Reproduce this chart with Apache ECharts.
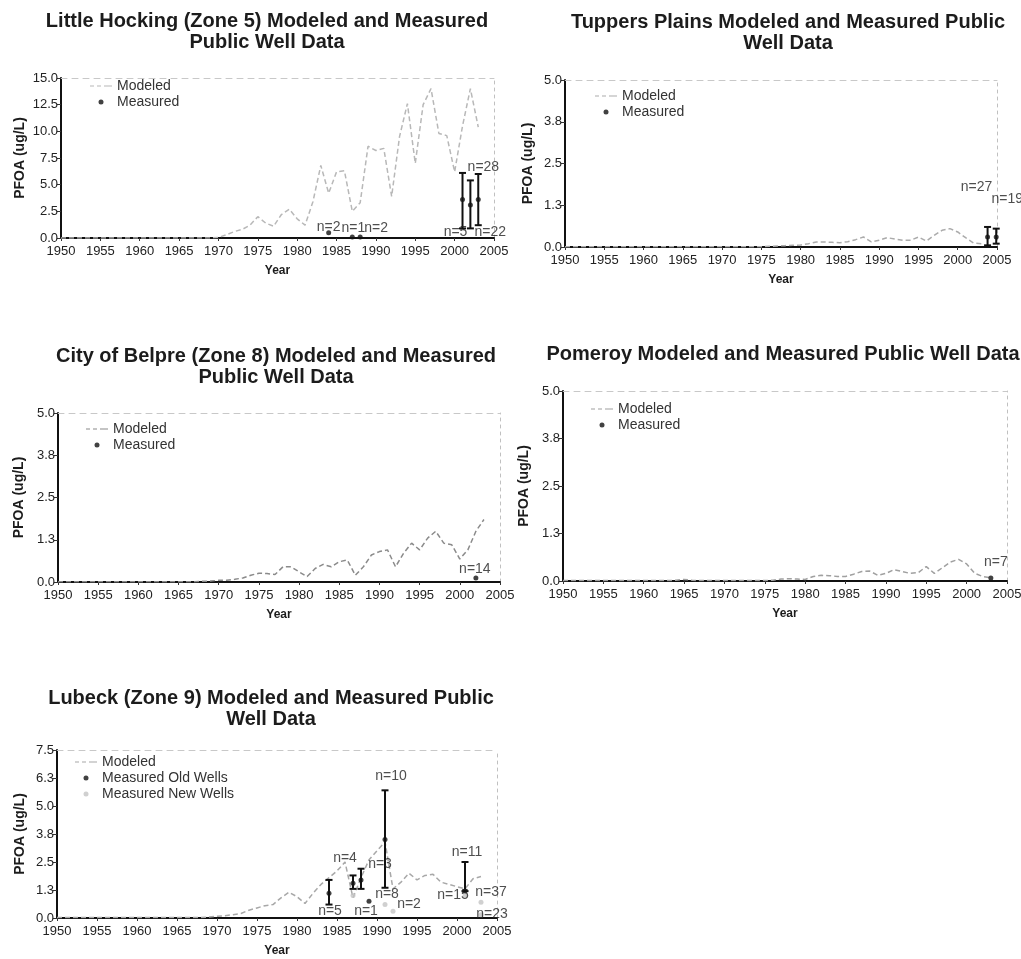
<!DOCTYPE html>
<html>
<head>
<meta charset="utf-8">
<script src="https://cdn.jsdelivr.net/npm/echarts@6/dist/echarts.min.js"></script>
<style>
html,body{margin:0;padding:0;background:#fff;}
#c{width:1021px;height:959px;}
</style>
</head>
<body>
<div id="c"></div>
<script>
// ---------------- DATA ----------------
const YEARS = [1950,1951,1952,1953,1954,1955,1956,1957,1958,1959,
  1960,1961,1962,1963,1964,1965,1966,1967,1968,1969,
  1970,1971,1972,1973,1974,1975,1976,1977,1978,1979,
  1980,1981,1982,1983,1984,1985,1986,1987,1988,1989,
  1990,1991,1992,1993,1994,1995,1996,1997,1998,1999,
  2000,2001,2002,2003];

const X_TICKS = [1950,1955,1960,1965,1970,1975,1980,1985,1990,1995,2000,2005];

// Little Hocking (Zone 5)
const LH_MODELED = [0,0,0,0,0,0,0,0,0,0, 0,0,0,0,0,0,0,0,0,0,
  0.05,0.3,0.6,0.8,1.2,2.0,1.4,1.1,2.2,2.7,
  1.8,1.2,3.4,6.8,4.2,6.2,6.3,2.5,3.3,8.6,
  8.2,8.4,3.9,9.5,12.6,7.0,12.5,14.0,9.8,9.6,
  6.2,10.5,14.0,10.4];
const LH_MEAS_YEAR = [1984,1987,1988,2001,2002,2003];
const LH_MEAS_MEAN = [0.5,0.1,0.1,3.6,3.1,3.6];
const LH_MEAS_LOW  = [null,null,null,0.9,0.9,1.2];
const LH_MEAS_HIGH = [null,null,null,6.1,5.4,6.0];
const LH_MEAS_N    = ['n=2','n=1','n=2','n=5','n=28','n=22'];

// Tuppers Plains
const TP_MODELED = [0.01,0.01,0.01,0.01,0.01,0.01,0.01,0.01,0.01,0.01,
  0.01,0.01,0.01,0.01,0.01,0.01,0.01,0.01,0.01,0.01,
  0.01,0.01,0.01,0.01,0.01,0.01,0.02,0.03,0.04,0.05,
  0.06,0.1,0.15,0.15,0.14,0.13,0.16,0.22,0.3,0.15,
  0.2,0.28,0.24,0.2,0.2,0.3,0.18,0.35,0.5,0.55,
  0.45,0.28,0.12,0.1];
const TP_MEAS_YEAR = [2003.8,2004.9];
const TP_MEAS_MEAN = [0.3,0.3];
const TP_MEAS_LOW  = [0.05,0.1];
const TP_MEAS_HIGH = [0.6,0.55];
const TP_MEAS_N    = ['n=27','n=19'];

// City of Belpre (Zone 8)
const BP_MODELED = [0.01,0.01,0.01,0.01,0.01,0.01,0.01,0.01,0.01,0.01,
  0.01,0.01,0.01,0.01,0.01,0.01,0.01,0.01,0.02,0.03,
  0.05,0.05,0.08,0.12,0.2,0.26,0.25,0.22,0.45,0.45,
  0.3,0.16,0.4,0.52,0.45,0.6,0.65,0.2,0.45,0.8,
  0.9,0.95,0.45,0.85,1.15,0.95,1.3,1.5,1.15,1.1,
  0.68,0.95,1.5,1.85];
const BP_MEAS_YEAR = [2002];
const BP_MEAS_MEAN = [0.12];
const BP_MEAS_LOW  = [null];
const BP_MEAS_HIGH = [null];
const BP_MEAS_N    = ['n=14'];

// Pomeroy
const PM_MODELED = [0.01,0.01,0.01,0.01,0.01,0.01,0.01,0.01,0.01,0.01,
  0.01,0.01,0.01,0.01,0.02,0.04,0.02,0.01,0.01,0.01,
  0.01,0.01,0.01,0.01,0.01,0.01,0.02,0.05,0.06,0.05,
  0.04,0.12,0.15,0.14,0.12,0.12,0.18,0.25,0.26,0.15,
  0.2,0.3,0.25,0.2,0.22,0.38,0.2,0.35,0.5,0.57,
  0.45,0.2,0.12,0.08];
const PM_MEAS_YEAR = [2003];
const PM_MEAS_MEAN = [0.08];
const PM_MEAS_LOW  = [null];
const PM_MEAS_HIGH = [null];
const PM_MEAS_N    = ['n=7'];

// Lubeck (Zone 9)
const LB_MODELED = [0.02,0.02,0.02,0.02,0.02,0.02,0.02,0.02,0.02,0.02,
  0.02,0.02,0.02,0.02,0.02,0.02,0.02,0.02,0.02,0.05,
  0.08,0.1,0.15,0.2,0.35,0.45,0.55,0.6,0.9,1.15,
  0.95,0.65,1.1,1.5,1.8,2.1,2.5,0.9,1.8,2.6,
  3.0,3.4,1.3,1.6,2.0,1.7,1.9,1.95,1.6,1.5,
  1.4,1.3,1.75,1.85];
const LB_OLD_YEAR = [1984,1987,1988,1989,1991,2001];
const LB_OLD_MEAN = [1.1,1.55,1.7,0.75,3.5,1.2];
const LB_OLD_LOW  = [0.6,1.3,1.3,null,1.35,1.2];
const LB_OLD_HIGH = [1.7,1.9,2.2,null,5.7,2.5];
const LB_OLD_N    = ['n=5','n=4','n=3','n=1','n=10','n=11'];
const LB_NEW_YEAR = [1987,1991,1992,2001,2003,2003];
const LB_NEW_MEAN = [1.0,0.6,0.3,1.0,0.7,0.15];
const LB_NEW_N    = ['','n=8','n=2','n=15','n=37','n=23'];

// ---------------- STYLE / LAYOUT ----------------
const FONT = '"Liberation Sans", Arial, Helvetica, sans-serif';
const INK = '#1c1c1c';

const panels = [
  { title:'Little Hocking (Zone 5) Modeled and Measured\nPublic Well Data', tx:267, ty:11,
    grid:{left:61, top:78, width:433, height:160}, ymax:15, yint:2.5, nameGap:34,
    lineColor:'#b8b8b8', legend:{left:90, top:79},
    meas:[{name:'Measured', color:'#111', year:LH_MEAS_YEAR, mean:LH_MEAS_MEAN, low:LH_MEAS_LOW, high:LH_MEAS_HIGH, n:LH_MEAS_N,
      off:[[0,-6],[1,-9],[16,-9],[-7,33],[13,-38],[12,33]]}],
    modeled:LH_MODELED },
  { title:'Tuppers Plains Modeled and Measured Public\nWell Data', tx:788, ty:12,
    grid:{left:565, top:80, width:432, height:167}, ymax:5, yint:1.25, nameGap:30,
    lineColor:'#ababab', legend:{left:595, top:89},
    meas:[{name:'Measured', color:'#111', year:TP_MEAS_YEAR, mean:TP_MEAS_MEAN, low:TP_MEAS_LOW, high:TP_MEAS_HIGH, n:TP_MEAS_N,
      off:[[-11,-50],[11,-38]]}],
    modeled:TP_MODELED },
  { title:'City of Belpre (Zone 8) Modeled and Measured\nPublic Well Data', tx:276, ty:346,
    grid:{left:58, top:413, width:442, height:169}, ymax:5, yint:1.25, nameGap:32,
    lineColor:'#8a8a8a', legend:{left:86, top:422},
    meas:[{name:'Measured', color:'#111', year:BP_MEAS_YEAR, mean:BP_MEAS_MEAN, low:BP_MEAS_LOW, high:BP_MEAS_HIGH, n:BP_MEAS_N,
      off:[[-1,-9]]}],
    modeled:BP_MODELED },
  { title:'Pomeroy Modeled and Measured Public Well Data', tx:783, ty:344,
    grid:{left:563, top:391, width:444, height:190}, ymax:5, yint:1.25, nameGap:32,
    lineColor:'#a0a0a0', legend:{left:591, top:402},
    meas:[{name:'Measured', color:'#111', year:PM_MEAS_YEAR, mean:PM_MEAS_MEAN, low:PM_MEAS_LOW, high:PM_MEAS_HIGH, n:PM_MEAS_N,
      off:[[5,-16]]}],
    modeled:PM_MODELED },
  { title:'Lubeck (Zone 9) Modeled and Measured Public\nWell Data', tx:271, ty:688,
    grid:{left:57, top:750, width:440, height:168}, ymax:7.5, yint:1.25, nameGap:30,
    lineColor:'#a8a8a8', legend:{left:75, top:755},
    meas:[
      {name:'Measured Old Wells', color:'#111', year:LB_OLD_YEAR, mean:LB_OLD_MEAN, low:LB_OLD_LOW, high:LB_OLD_HIGH, n:LB_OLD_N,
        off:[[1,18],[-8,-25],[19,-16],[-3,10],[6,-63],[2,-39]]},
      {name:'Measured New Wells', color:'#c4c4c4', year:LB_NEW_YEAR, mean:LB_NEW_MEAN, low:null, high:null, n:LB_NEW_N,
        off:[[0,0],[2,-10],[16,-7],[-12,0],[10,-10],[11,0]]}
    ],
    modeled:LB_MODELED }
];

function errRender(params, api) {
  const x = api.value(0), lo = api.value(1), hi = api.value(2);
  const a = api.coord([x, hi]), b = api.coord([x, lo]);
  const w = 3.5;
  const st = {stroke:'#111', lineWidth:2};
  return {type:'group', children:[
    {type:'line', shape:{x1:a[0], y1:a[1], x2:b[0], y2:b[1]}, style:st},
    {type:'line', shape:{x1:a[0]-w, y1:a[1], x2:a[0]+w, y2:a[1]}, style:st},
    {type:'line', shape:{x1:b[0]-w, y1:b[1], x2:b[0]+w, y2:b[1]}, style:st}
  ]};
}

const option = {
  animation:false,
  backgroundColor:'#ffffff',
  textStyle:{fontFamily:FONT},
  title:[], legend:[], grid:[], xAxis:[], yAxis:[], series:[]
};

panels.forEach((p, i) => {
  option.title.push({
    text:p.title, left:p.tx, top:p.ty, textAlign:'center', padding:0,
    textStyle:{fontFamily:FONT, fontSize:20, fontWeight:'bold', color:INK, lineHeight:21}
  });
  option.grid.push(Object.assign({containLabel:false, outerBoundsMode:'none', show:false}, p.grid));

  const legendData = [{name:'Modeled', icon:'path://M0,0 L4,0 L4,1 L0,1 Z M7,0 L11,0 L11,1 L7,1 Z M14,0 L22,0 L22,1 L14,1 Z',
      itemStyle:{color:p.lineColor}}];
  p.meas.forEach(m => legendData.push({name:m.name, icon:'circle', itemStyle:{color:m.color}}));
  option.legend.push({
    orient:'vertical', left:p.legend.left, top:p.legend.top, padding:0,
    itemWidth:22, itemHeight:5, itemGap:2, selectedMode:false,
    textStyle:{fontFamily:FONT, fontSize:14, color:'#333', padding:[0,0,0,0]},
    data:legendData
  });

  const axisFont = {fontFamily:FONT, fontSize:13, color:'#222'};
  option.xAxis.push({
    type:'value', gridIndex:i, min:1950, max:2005, interval:5, position:'bottom',
    name:'Year', nameLocation:'middle', nameGap:27,
    nameTextStyle:{fontFamily:FONT, fontSize:12, fontWeight:'bold', color:INK},
    axisLine:{show:true, onZero:false, lineStyle:{color:'#111', width:2}},
    axisTick:{show:true, length:3, inside:false, lineStyle:{color:'#333'}},
    axisLabel:Object.assign({show:true, margin:7, formatter:v => String(v)}, axisFont),
    splitLine:{show:false}
  });
  option.xAxis.push({
    type:'value', gridIndex:i, min:1950, max:2005, interval:5, position:'top',
    axisLine:{show:true, onZero:false, lineStyle:{color:'#c8c8c8', width:1, type:[6,5]}},
    axisTick:{show:false}, axisLabel:{show:false}, splitLine:{show:false}
  });
  option.yAxis.push({
    type:'value', gridIndex:i, min:0, max:p.ymax, interval:p.yint, position:'left',
    name:'PFOA (ug/L)', nameLocation:'middle', nameGap:p.nameGap,
    nameTextStyle:{fontFamily:FONT, fontSize:14, fontWeight:'bold', color:INK},
    axisLine:{show:true, onZero:false, lineStyle:{color:'#111', width:2}},
    axisTick:{show:true, length:4, lineStyle:{color:'#333'}},
    axisLabel:Object.assign({show:true, margin:3, formatter:v => v.toFixed(1)}, axisFont),
    splitLine:{show:false}
  });
  option.yAxis.push({
    type:'value', gridIndex:i, min:0, max:p.ymax, interval:p.yint, position:'right',
    axisLine:{show:true, onZero:false, lineStyle:{color:'#c0c0c0', width:1, type:[3,4]}},
    axisTick:{show:false}, axisLabel:{show:false}, splitLine:{show:false}
  });

  const xi = 2*i, yi = 2*i;
  option.series.push({
    type:'line', name:'Modeled', xAxisIndex:xi, yAxisIndex:yi,
    data:YEARS.map((y,k) => [y, p.modeled[k]]),
    symbol:'none', smooth:false, z:2,
    lineStyle:{color:p.lineColor, width:1.5, type:[5,3]},
    itemStyle:{color:p.lineColor}
  });

  p.meas.forEach(m => {
    if (m.low && m.high) {
      const bars = [];
      m.year.forEach((y,k) => { if (m.low[k] != null && m.high[k] != null) bars.push([y, m.low[k], m.high[k]]); });
      option.series.push({
        type:'custom', name:m.name + ' range', xAxisIndex:xi, yAxisIndex:yi,
        renderItem:errRender, data:bars, encode:{x:0, y:[1,2]}, z:3, silent:true
      });
    }
    option.series.push({
      type:'scatter', name:m.name, xAxisIndex:xi, yAxisIndex:yi, z:4,
      symbol:'circle', symbolSize:5,
      itemStyle:{color:m.color},
      label:{show:true, position:'inside', formatter:'{b}', fontFamily:FONT, fontSize:14, color:'#222'},
      data:m.year.map((y,k) => ({name:m.n[k], value:[y, m.mean[k]], label:{offset:m.off[k]}}))
    });
  });
});

const chart = echarts.init(document.getElementById('c'), null, {renderer:'canvas'});
chart.setOption(option);
</script>
</body>
</html>
